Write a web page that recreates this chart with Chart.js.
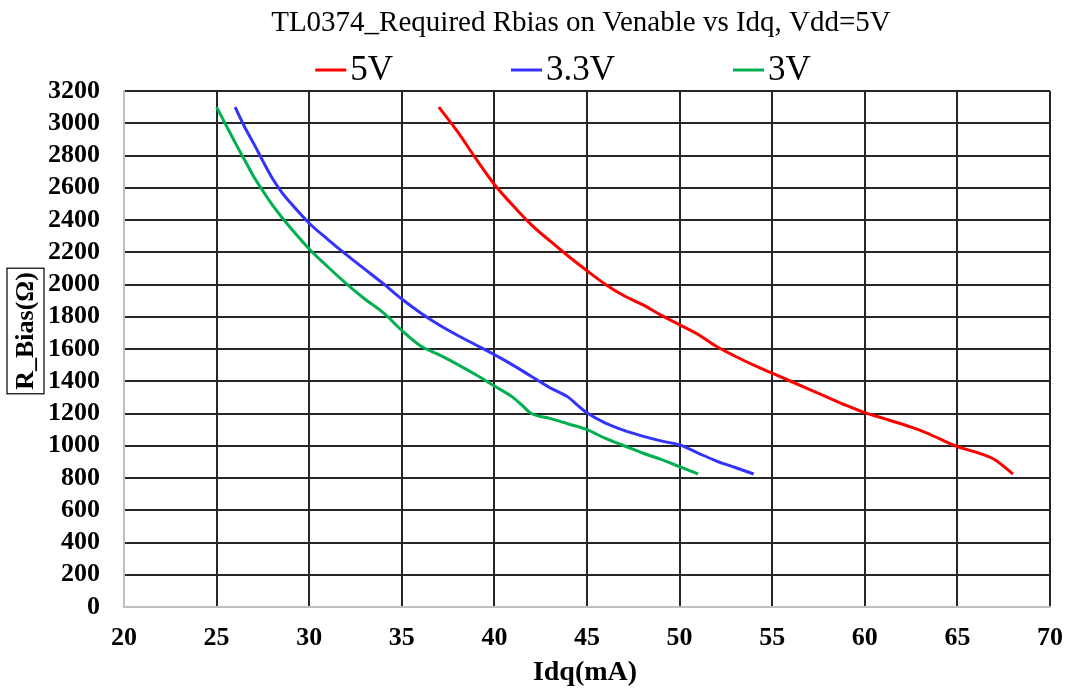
<!DOCTYPE html>
<html><head><meta charset="utf-8">
<script src="https://cdn.jsdelivr.net/npm/chart.js@4"></script>
<style>html,body{margin:0;padding:0;background:#fff}</style>
</head><body>
<canvas id="c" width="1072" height="696"></canvas>
<script>
const titleText = "TL0374_Required Rbias on Venable vs Idq, Vdd=5V";
const xTitle = "Idq(mA)";
const yTitle = "R_Bias(Ω)";
const seriesNames = ["5V", "3.3V", "3V"];
const seriesColors = ["#FF0000", "#3333FF", "#00B050"];

const idq5V = [37,38,39,40,41,42,43,44,45,46,47,48,49,50,51,52,53,54,55,56,57,58,59,60,61,62,63,64,65,66,67,68];
const rb5V  = [3100,2950,2780,2620,2490,2370,2270,2175,2085,2000,1930,1875,1810,1750,1690,1615,1555,1500,1450,1400,1350,1300,1250,1205,1170,1135,1095,1045,995,960,915,825];

const idq33V = [26,26.5,27,27.5,28,28.5,29,30,31,32,33,34,35,36,37,38,39,40,41,42,43,44,44.5,45,46,47,48,49,50,51,52,53,54];
const rb33V  = [3100,2980,2875,2765,2660,2575,2505,2380,2280,2185,2095,2005,1910,1825,1750,1685,1625,1565,1500,1430,1360,1300,1250,1205,1140,1095,1060,1030,1005,955,905,865,825];

const idq3V = [25,25.5,26,26.5,27,27.5,28,28.5,29,30,31,32,33,34,35,36,37,38,39,40,41,41.5,42,43,44,45,46,47,48,49,50,51];
const rb3V  = [3100,2990,2880,2775,2670,2580,2495,2420,2350,2220,2110,2005,1910,1825,1715,1620,1565,1505,1440,1370,1300,1250,1200,1170,1135,1100,1045,1000,955,915,870,825];

const xTicksMin = 20, xTicksMax = 70, xStep = 5;
const yTicksMin = 0, yTicksMax = 3200, yStep = 200;

function pts(xs, ys) { return xs.map((x, i) => ({x: x, y: ys[i]})); }
const allX = [idq5V, idq33V, idq3V];
const allY = [rb5V, rb33V, rb3V];

const datasets = seriesNames.map((n, i) => ({
  label: n,
  data: pts(allX[i], allY[i]),
  borderColor: seriesColors[i],
  backgroundColor: seriesColors[i],
  borderWidth: 3,
  showLine: true,
  pointRadius: 0,
  tension: 0.4,
  cubicInterpolationMode: 'monotone',
  fill: false
}));

const DARK = '#262626', GRAY = '#BFBFBF';
const SERIF = "'Liberation Serif', 'Times New Roman', serif";

const textPlugin = {
  id: 'texts',
  afterDraw(chart) {
    const ctx = chart.ctx;
    ctx.save();
    ctx.fillStyle = '#000';
    ctx.font = "29px " + SERIF;
    ctx.textAlign = 'center';
    ctx.textBaseline = 'middle';
    ctx.fillText(titleText, 581, 23);
    ctx.font = "35px " + SERIF;
    const lineLen = 31, gap = 4, spacing = 118;
    const widths = seriesNames.map(n => lineLen + gap + ctx.measureText(n).width);
    const total = widths.reduce((s, w) => s + w, 0) + spacing * (seriesNames.length - 1);
    let x = 563 - total / 2;
    const ly = 70;
    ctx.textAlign = 'left';
    seriesNames.forEach((n, i) => {
      ctx.strokeStyle = seriesColors[i];
      ctx.lineWidth = 3;
      ctx.beginPath();
      ctx.moveTo(x, ly);
      ctx.lineTo(x + lineLen, ly);
      ctx.stroke();
      ctx.fillText(n, x + lineLen + gap, ly + 1);
      x += widths[i] + spacing;
    });
    ctx.font = "bold 28px " + SERIF;
    ctx.textAlign = 'center';
    ctx.fillText(xTitle, 585, 673);
    ctx.translate(25.5, 331);
    ctx.rotate(-Math.PI / 2);
    ctx.font = "bold 26px " + SERIF;
    const tw = ctx.measureText(yTitle).width;
    ctx.strokeStyle = '#000';
    ctx.lineWidth = 1.2;
    ctx.strokeRect(-tw / 2 - 4, -18.5, tw + 8, 37);
    ctx.fillText(yTitle, 0, 1);
    ctx.restore();
  }
};

new Chart(document.getElementById('c'), {
  type: 'scatter',
  data: { datasets: datasets },
  options: {
    responsive: false,
    animation: false,
    layout: { padding: { top: 91, right: 22, left: 0, bottom: 0 } },
    plugins: { legend: { display: false }, title: { display: false }, tooltip: { enabled: false } },
    scales: {
      x: {
        type: 'linear', min: xTicksMin, max: xTicksMax,
        afterFit: s => { s.height = 89; s.paddingRight = 0; },
        ticks: { stepSize: xStep, autoSkip: false, color: '#000', padding: 16, font: { family: SERIF, size: 26, weight: 'bold' }, maxRotation: 0, callback: v => String(v) },
        grid: { drawTicks: false, lineWidth: 2, color: c => (c.tick && c.tick.value === xTicksMin) ? GRAY : DARK },
        border: { display: true, color: GRAY, width: 2 }
      },
      y: {
        type: 'linear', min: yTicksMin, max: yTicksMax,
        afterFit: s => { s.width = 124; },
        ticks: { stepSize: yStep, autoSkip: false, color: '#000', padding: 24, font: { family: SERIF, size: 26, weight: 'bold' }, callback: v => String(v) },
        grid: { drawTicks: false, lineWidth: 2, color: c => (c.tick && c.tick.value === yTicksMin) ? GRAY : DARK },
        border: { display: true, color: GRAY, width: 2 }
      }
    }
  },
  plugins: [textPlugin]
});
</script>
</body></html>
